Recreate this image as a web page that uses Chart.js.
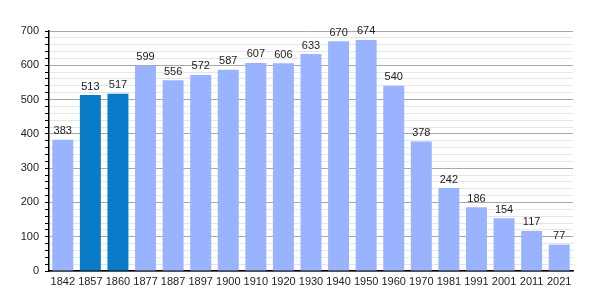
<!DOCTYPE html>
<html>
<head>
<meta charset="utf-8">
<script src="https://cdn.jsdelivr.net/npm/chart.js@4"></script>
<style>
  html, body { margin: 0; padding: 0; background: #fff; }
  #wrap { width: 600px; height: 300px; }
</style>
</head>
<body>
<div id="wrap"><canvas id="popChart" width="600" height="300"></canvas></div>
<script>
const years = ['1842', '1857', '1860', '1877', '1887', '1897', '1900', '1910', '1920', '1930',
  '1940', '1950', '1960', '1970', '1981', '1991', '2001', '2011', '2021'];
const population = [383, 513, 517, 599, 556, 572, 587, 607, 606, 633,
  670, 674, 540, 378, 242, 186, 154, 117, 77];
const highlighted = ['1857', '1860'];
const yTicks = [0, 100, 200, 300, 400, 500, 600, 700];

const lightBar = '#99b3ff';
const darkBar = '#0a7bc8';

// labels above each bar
const valueLabels = {
  id: 'valueLabels',
  afterDatasetsDraw(chart) {
    const ctx = chart.ctx;
    const meta = chart.getDatasetMeta(0);
    ctx.save();
    ctx.font = '11px "Liberation Sans", Arial, sans-serif';
    ctx.fillStyle = '#222';
    ctx.textAlign = 'center';
    ctx.textBaseline = 'bottom';
    meta.data.forEach((bar, i) => {
      ctx.fillText(String(population[i]), bar.x, bar.y - 3);
    });
    ctx.restore();
  }
};

const ctx = document.getElementById('popChart').getContext('2d');
const chart = new Chart(ctx, {
  type: 'bar',
  data: {
    labels: years,
    datasets: [{
      data: population,
      backgroundColor: years.map(y => highlighted.includes(y) ? darkBar : lightBar),
      borderWidth: 0,
      categoryPercentage: 1,
      barPercentage: 0.76
    }]
  },
  options: {
    responsive: false,
    animation: false,
    layout: { padding: { top: 31, right: 27, left: 0, bottom: 0 } },
    plugins: {
      legend: { display: false },
      tooltip: { enabled: false }
    },
    scales: {
      x: {
        grid: { display: false, drawTicks: false },
        border: { color: '#000', width: 1.5 },
        ticks: {
          color: '#222',
          font: { size: 11, family: '"Liberation Sans", Arial, sans-serif' },
          padding: 4,
          maxRotation: 0,
          autoSkip: false
        },
        afterFit(scale) { scale.height = 29; }
      },
      y: {
        min: 0,
        max: 700,
        grid: {
          color: c => (c.tick.value % 100 === 0 ? '#a8a8a8' : '#e6e6e6'),
          lineWidth: 1,
          tickColor: '#000',
          tickLength: 4
        },
        border: { color: '#000', width: 1.5 },
        ticks: {
          stepSize: 20,
          autoSkip: false,
          color: '#222',
          font: { size: 11, family: '"Liberation Sans", Arial, sans-serif' },
          padding: 6,
          callback: v => (yTicks.includes(v) ? String(v) : '')
        },
        afterFit(scale) { scale.width = 49; }
      }
    }
  },
  plugins: [valueLabels]
});
</script>
</body>
</html>
